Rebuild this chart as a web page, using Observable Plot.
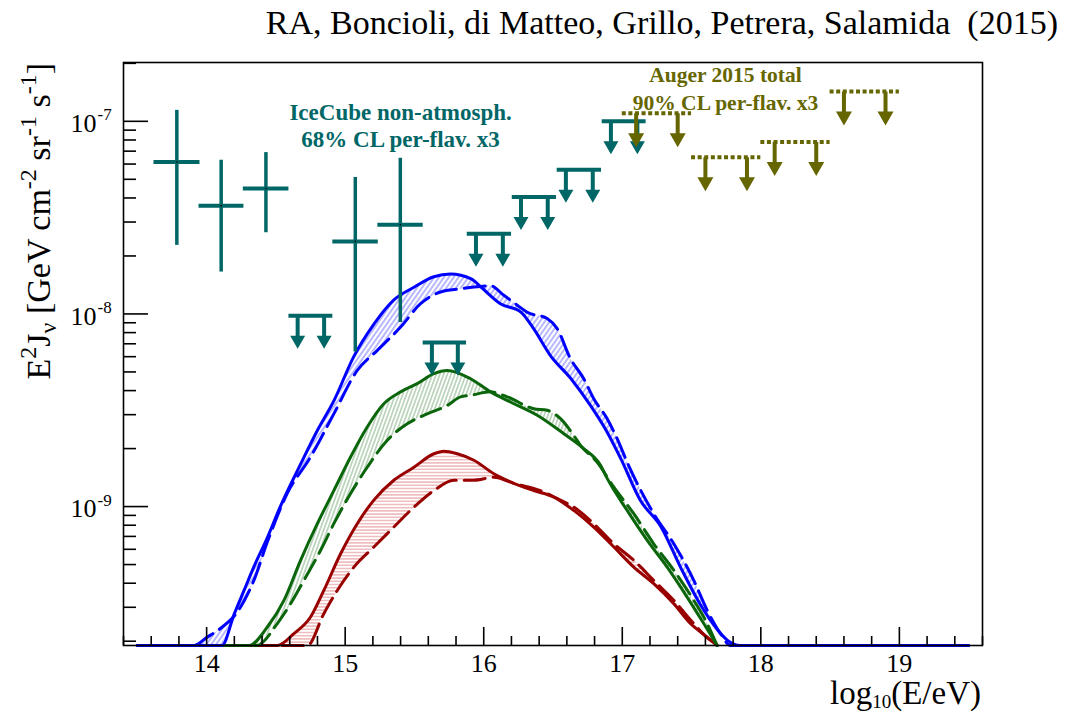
<!DOCTYPE html>
<html>
<head>
<meta charset="utf-8">
<script src="https://cdn.jsdelivr.net/npm/d3@7"></script>
<script src="https://cdn.jsdelivr.net/npm/@observablehq/plot@0.6"></script>
<style>
  body { margin: 0; background: #fff; }
  #chart svg { display: block; }
</style>
</head>
<body>
<div id="chart"></div>
<script>
// ---------- data (x = log10(E/eV), y = E^2 J [GeV cm^-2 sr^-1 s^-1]) ----------
const F = 1.9e-10; // off-scale (drawn on the bottom axis)

const blueSolidE = [13.5, 14.11, 14.20, 14.27, 14.34, 14.44, 14.53, 14.68, 14.80, 14.92, 15.06, 15.21, 15.35, 15.50, 15.64, 15.76, 15.91, 15.98, 16.12, 16.27, 16.36, 16.48, 16.63, 16.77, 16.89, 16.99, 17.13, 17.28, 17.42, 17.56, 17.69, 17.76, 17.85, 19.5];
const blueSolidJ = [F, F, 2.78e-10, 3.67e-10, 4.85e-10, 6.95e-10, 9.93e-10, 1.67e-9, 2.49e-9, 3.56e-9, 5.97e-9, 8.91e-9, 1.18e-8, 1.38e-8, 1.56e-8, 1.61e-8, 1.52e-8, 1.38e-8, 1.13e-8, 1.02e-8, 8.39e-9, 6.10e-9, 4.61e-9, 3.35e-9, 2.44e-9, 1.77e-9, 1.08e-9, 7.83e-10, 4.85e-10, 3.13e-10, 2.28e-10, 2.02e-10, F, F];
const blueDashE = [13.5, 13.906, 14.005, 14.113, 14.221, 14.341, 14.44, 14.582, 14.75, 14.918, 15.087, 15.232, 15.40, 15.544, 15.688, 15.833, 15.929, 16.049, 16.145, 16.242, 16.314, 16.458, 16.53, 16.626, 16.722, 16.794, 16.891, 16.963, 17.035, 17.227, 17.372, 17.516, 17.613, 17.709, 17.781, 19.5];
const blueDashJ = [F, F, 2.10e-10, 2.37e-10, 2.83e-10, 4.14e-10, 6.6e-10, 1.17e-9, 1.81e-9, 3.03e-9, 5.09e-9, 6.47e-9, 8.55e-9, 1.13e-8, 1.30e-8, 1.35e-8, 1.38e-8, 1.40e-8, 1.25e-8, 1.11e-8, 1.02e-8, 9.46e-9, 8.39e-9, 5.86e-9, 4.61e-9, 3.63e-9, 2.86e-9, 2.25e-9, 1.70e-9, 9.18e-10, 6.41e-10, 4.14e-10, 2.89e-10, 2.19e-10, F, F];

const greenSolidE = [13.5, 14.305, 14.438, 14.558, 14.678, 14.799, 14.918, 15.039, 15.159, 15.279, 15.40, 15.52, 15.64, 15.737, 15.905, 16.049, 16.193, 16.386, 16.578, 16.722, 16.843, 16.891, 17.035, 17.18, 17.324, 17.468, 17.588, 17.685];
const greenSolidJ = [F, F, 2.37e-10, 3.26e-10, 5.26e-10, 8.15e-10, 1.21e-9, 1.81e-9, 2.59e-9, 3.42e-9, 3.94e-9, 4.35e-9, 4.90e-9, 5.09e-9, 4.61e-9, 3.94e-9, 3.49e-9, 2.98e-9, 2.39e-9, 2.00e-9, 1.64e-9, 1.40e-9, 9.55e-10, 6.68e-10, 4.85e-10, 3.39e-10, 2.47e-10, F];
const greenDashE = [13.5, 14.36, 14.51, 14.606, 14.702, 14.823, 14.918, 15.039, 15.159, 15.304, 15.448, 15.592, 15.737, 15.833, 15.905, 16.049, 16.17, 16.361, 16.458, 16.554, 16.65, 16.698, 16.818, 16.939, 17.083, 17.227, 17.372, 17.516, 17.613, 17.685];
const greenDashJ = [F, F, 2.47e-10, 3.13e-10, 4.14e-10, 5.93e-10, 8.15e-10, 1.17e-9, 1.60e-9, 2.21e-9, 2.69e-9, 3.03e-9, 3.35e-9, 3.71e-9, 3.78e-9, 3.94e-9, 3.71e-9, 3.22e-9, 3.16e-9, 2.86e-9, 2.34e-9, 2.08e-9, 1.70e-9, 1.26e-9, 9.18e-10, 6.41e-10, 4.67e-10, 3.26e-10, 2.47e-10, F];

const redSolidE = [13.5, 14.51, 14.63, 14.75, 14.846, 14.967, 15.087, 15.207, 15.351, 15.496, 15.64, 15.712, 15.809, 15.929, 16.073, 16.217, 16.361, 16.506, 16.65, 16.794, 16.939, 17.083, 17.227, 17.372, 17.492, 17.613, 17.685];
const redSolidJ = [F, F, 2.19e-10, 2.67e-10, 3.67e-10, 5.69e-10, 8.15e-10, 1.08e-9, 1.37e-9, 1.60e-9, 1.88e-9, 1.94e-9, 1.88e-9, 1.74e-9, 1.48e-9, 1.32e-9, 1.21e-9, 1.12e-9, 9.55e-10, 7.83e-10, 6.17e-10, 4.85e-10, 3.98e-10, 3.13e-10, 2.47e-10, 2.10e-10, F];
const redDashE = [13.5, 14.727, 14.846, 14.943, 15.063, 15.207, 15.351, 15.496, 15.64, 15.784, 15.929, 16.073, 16.217, 16.41, 16.554, 16.65, 16.794, 16.939, 17.083, 17.227, 17.372, 17.516, 17.637, 17.71];
const redDashJ = [F, F, 2.78e-10, 3.67e-10, 4.85e-10, 6.17e-10, 7.83e-10, 9.93e-10, 1.21e-9, 1.37e-9, 1.37e-9, 1.42e-9, 1.32e-9, 1.21e-9, 1.08e-9, 9.93e-10, 8.15e-10, 6.41e-10, 5.26e-10, 4.14e-10, 3.26e-10, 2.47e-10, 2.02e-10, F];

// IceCube non-atmospheric (68% CL per flavour x3): points with error bars
const icE   = [13.785, 14.105, 14.428, 15.073, 15.398];
const icLo  = [13.62, 13.945, 14.265, 14.911, 15.236];
const icHi  = [13.952, 14.269, 14.594, 15.239, 15.563];
const icJ   = [6.15e-8, 3.65e-8, 4.48e-8, 2.38e-8, 2.90e-8];
const icJlo = [2.27e-8, 1.65e-8, 2.64e-8, 6.34e-9, 9.02e-9];
const icJhi = [1.14e-7, 6.28e-8, 6.88e-8, 5.11e-8, 6.44e-8];
// IceCube upper limits
const icUlLo = [14.594, 15.563, 15.881, 16.206, 16.530, 16.855];
const icUlHi = [14.911, 15.876, 16.201, 16.525, 16.850, 17.172];
const icUlJ  = [9.8e-9, 7.1e-9, 2.61e-8, 4.05e-8, 5.61e-8, 1.0e-7];
// Auger 2015 total (90% CL per flavour x3) upper limits
const augLo = [17.0, 17.5, 18.0, 18.5];
const augHi = [17.5, 18.0, 18.5, 19.0];
const augJ  = [1.10e-7, 6.5e-8, 7.8e-8, 1.43e-7];

// axes
const xMajor = [14, 15, 16, 17, 18, 19];
const xTickLabels = ["14", "15", "16", "17", "18", "19"];
const yMajor = [1e-9, 1e-8, 1e-7];
const yTickBase = ["10", "10", "10"];
const yTickExp = ["-9", "-8", "-7"];

const title = "RA, Boncioli, di Matteo, Grillo, Petrera, Salamida  (2015)";
const icText = ["IceCube non-atmosph.", "68% CL per-flav. x3"];
const augText = ["Auger 2015 total", "90% CL per-flav. x3"];

// ---------- layout ----------
const W = 1066, H = 712;
const mL = 123, mR = 84, mT = 62, mB = 67;
const FW = W - mL - mR, FH = H - mT - mB;
const serif = "'Liberation Serif', 'Times New Roman', serif";
const TEAL = "#006666", OLIVE = "#666600";

const pts = (E, J) => E.map((e, i) => ({e, j: J[i]}));
const curves = [
  {color: "#990000", hatch: "hatchRed", solid: pts(redSolidE, redSolidJ), dashed: pts(redDashE, redDashJ)},
  {color: "#0b650b", hatch: "hatchGreen", solid: pts(greenSolidE, greenSolidJ), dashed: pts(greenDashE, greenDashJ)},
  {color: "#0000ff", hatch: "hatchBlue", solid: pts(blueSolidE, blueSolidJ), dashed: pts(blueDashE, blueDashJ)}
];
const band = c => {
  const inner = p => p.e > 13.5 && p.e < 19.5;
  return [...c.solid.filter(inner), ...c.dashed.filter(inner).reverse()];
};

const icPts = icE.map((e, i) => ({e, lo: icLo[i], hi: icHi[i], j: icJ[i], jlo: icJlo[i], jhi: icJhi[i]}));
const icUl = icUlJ.map((j, i) => ({lo: icUlLo[i], hi: icUlHi[i], j}));
const icArrows = icUl.flatMap(d => [{e: d.lo + 0.063, j: d.j}, {e: d.hi - 0.063, j: d.j}]);
const aug = augJ.map((j, i) => ({lo: augLo[i], hi: augHi[i], j}));
const augArrows = aug.flatMap(d => [{e: d.lo + 0.1, j: d.j}, {e: d.hi - 0.1, j: d.j}]);

function arrowSymbol(len, headW, headH, stemW) {
  return {
    draw(ctx) {
      const s = stemW / 2, h = headW / 2, b = len - headH;
      ctx.moveTo(-s, 0); ctx.lineTo(s, 0); ctx.lineTo(s, b); ctx.lineTo(h, b);
      ctx.lineTo(0, len); ctx.lineTo(-h, b); ctx.lineTo(-s, b); ctx.closePath();
    }
  };
}

const xMinor = d3.range(13.4, 19.61, 0.2).filter(v => Math.abs(v - Math.round(v)) > 1e-6);
const yMinor = [];
for (let p = -10; p <= -7; p++) for (let k = 2; k <= 9; k++) {
  const v = k * Math.pow(10, p);
  if (v > 1.9e-10 && v < 2.02e-7) yMinor.push(v);
}
const xTicks = xMajor.map((v, i) => ({v, label: xTickLabels[i]}));
const yTicks = yMajor.map((v, i) => ({v, base: yTickBase[i], exp: yTickExp[i]}));
const labels = [
  {e: 15.40, j: 1.02e-7, t: icText[0], c: TEAL, s: 23},
  {e: 15.40, j: 7.35e-8, t: icText[1], c: TEAL, s: 23},
  {e: 17.745, j: 1.60e-7, t: augText[0], c: OLIVE, s: 21.5},
  {e: 17.745, j: 1.14e-7, t: augText[1], c: OLIVE, s: 21.5}
];

const chart = Plot.plot({
  width: W, height: H,
  marginLeft: mL, marginRight: mR, marginTop: mT, marginBottom: mB,
  style: {background: "#fff", fontFamily: serif},
  x: {type: "linear", domain: [13.4, 19.6], axis: null},
  y: {type: "log", domain: [1.9e-10, 2.02e-7], axis: null},
  marks: [
    ...curves.map(c => Plot.line(band(c), {x: "e", y: "j", fill: `url(#${c.hatch})`, stroke: "none", curve: "catmull-rom", clip: true})),
    ...curves.flatMap(c => [
      Plot.line(c.dashed, {x: "e", y: "j", stroke: c.color, strokeWidth: 3, strokeDasharray: "21,8", curve: "monotone-x"}),
      Plot.line(c.solid, {x: "e", y: "j", stroke: c.color, strokeWidth: 3, curve: "monotone-x"})
    ]),
    // IceCube points
    Plot.ruleX(icPts, {x: "e", y1: "jlo", y2: "jhi", stroke: TEAL, strokeWidth: 3.5}),
    Plot.ruleY(icPts, {y: "j", x1: "lo", x2: "hi", stroke: TEAL, strokeWidth: 4}),
    Plot.dot(icPts, {x: "e", y: "j", r: 0.8, fill: "black", stroke: "none"}),
    // IceCube upper limits
    Plot.ruleY(icUl, {y: "j", x1: "lo", x2: "hi", stroke: TEAL, strokeWidth: 4}),
    Plot.dot(icArrows, {x: "e", y: "j", symbol: arrowSymbol(33, 15, 13, 4), r: 5, fill: TEAL, stroke: "none"}),
    // Auger upper limits
    Plot.ruleY(aug, {y: "j", x1: "lo", x2: "hi", stroke: OLIVE, strokeWidth: 4, strokeDasharray: "4,2.6"}),
    Plot.dot(augArrows, {x: "e", y: "j", symbol: arrowSymbol(34, 16, 14, 4), r: 5, fill: OLIVE, stroke: "none"}),
    // annotations
    Plot.text(labels, {x: "e", y: "j", text: "t", fill: "c", fontSize: d => d.s, fontWeight: "bold", fontFamily: serif, lineAnchor: "bottom", textAnchor: "middle"}),
    // frame & ticks (ticks inward, ROOT style)
    Plot.frame({stroke: "black", strokeWidth: 1.6}),
    Plot.tickX(xMajor, {x: d => d, insetTop: FH - 18, stroke: "black", strokeWidth: 1.6}),
    Plot.tickX(xMinor, {x: d => d, insetTop: FH - 9, stroke: "black", strokeWidth: 1.6}),
    Plot.tickY(yMajor, {y: d => d, insetRight: FW - 25, stroke: "black", strokeWidth: 1.6}),
    Plot.tickY(yMinor, {y: d => d, insetRight: FW - 13, stroke: "black", strokeWidth: 1.6}),
    // tick labels
    Plot.text(xTicks, {x: "v", text: "label", frameAnchor: "bottom", dy: 26.7, lineAnchor: "bottom", fontSize: 26, fontFamily: serif, fill: "black"}),
    Plot.text(yTicks, {y: "v", text: "base", frameAnchor: "left", textAnchor: "end", dx: -27, dy: 10.7, lineAnchor: "bottom", fontSize: 26, fontFamily: serif, fill: "black"}),
    Plot.text(yTicks, {y: "v", text: "exp", frameAnchor: "left", textAnchor: "start", dx: -26, dy: -1, lineAnchor: "bottom", fontSize: 17, fontFamily: serif, fill: "black"})
  ]
});

const svg = d3.select(chart);
const defs = svg.insert("defs", ":first-child");
function hatch(id, color, angle, spacing, sw) {
  const p = defs.append("pattern").attr("id", id).attr("patternUnits", "userSpaceOnUse")
    .attr("width", spacing).attr("height", spacing).attr("patternTransform", `rotate(${angle})`);
  p.append("line").attr("x1", spacing / 2).attr("x2", spacing / 2).attr("y1", -1).attr("y2", spacing + 1)
    .attr("stroke", color).attr("stroke-width", sw);
}
hatch("hatchBlue", "#a0a0ff", 35, 4, 1.5);
hatch("hatchGreen", "#a5c6a5", 20, 3.5, 1.3);
hatch("hatchRed", "#e8a8a8", 90, 3.2, 1.2);

// title
svg.append("text").attr("x", 1058).attr("y", 34).attr("text-anchor", "end")
  .attr("font-family", serif).attr("font-size", 34).attr("fill", "black").text(title);

// y axis title (rotated, with super/subscripts)
const yl = svg.append("text").attr("transform", "translate(50,63) rotate(-90)")
  .attr("text-anchor", "end").attr("font-family", serif).attr("font-size", 34).attr("fill", "black");
const parts = [["E", 0], ["2", -1], ["J", 0], ["ν", 1], [" [GeV cm", 0], ["-2", -1], [" sr", 0], ["-1", -1], [" s", 0], ["-1", -1], ["]", 0]];
let cur = 0;
for (const [t, lvl] of parts) {
  const target = lvl === -1 ? -14 : lvl === 1 ? 6 : 0;
  yl.append("tspan").attr("dy", target - cur).attr("font-size", lvl === 0 ? 34 : 24).text(t);
  cur = target;
}

// x axis title
const xl = svg.append("text").attr("x", 981).attr("y", 704).attr("text-anchor", "end")
  .attr("font-family", serif).attr("font-size", 33).attr("fill", "black");
xl.append("tspan").text("log");
xl.append("tspan").attr("dy", 4).attr("font-size", 19).text("10");
xl.append("tspan").attr("dy", -4).text("(E/eV)");

document.getElementById("chart").appendChild(chart);
</script>
</body>
</html>
